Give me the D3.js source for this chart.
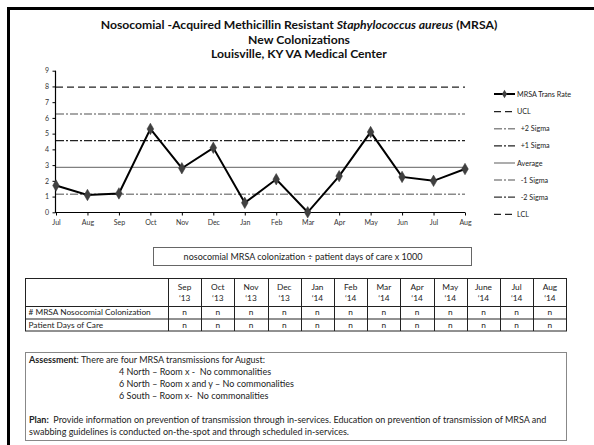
<!DOCTYPE html>
<html><head><meta charset="utf-8">
<script src="https://cdn.jsdelivr.net/npm/d3@7"></script>
<style>
body{margin:0;padding:0;background:#fff;}
svg{display:block;font-family:Lato,"Open Sans",sans-serif;}
</style></head>
<body>
<svg id="chart" width="594" height="445"></svg>
<script>
const months = ["Jul","Aug","Sep","Oct","Nov","Dec","Jan","Feb","Mar","Apr","May","Jun","Jul","Aug"];
const rates = [1.7,1.1,1.2,5.3,2.8,4.1,0.6,2.1,0,2.3,5.1,2.25,2.0,2.75];
const yTicks = [0,1,2,3,4,5,6,7,8,9];
const average = 2.85;
const sigma = 1.7;
const controlLines = [
  {name:"UCL", k:3},
  {name:"+2 Sigma", k:2},
  {name:"+1 Sigma", k:1},
  {name:"Average", k:0},
  {name:"-1 Sigma", k:-1},
  {name:"-2 Sigma", k:-2},
  {name:"LCL", k:-3}
];
const legendLabels = ["MRSA Trans Rate","UCL","  +2 Sigma","  +1 Sigma","Average","  -1 Sigma","  -2 Sigma","LCL"];
const titleLines = ["New Colonizations","Louisville, KY VA Medical Center"];
const formulaText = "nosocomial MRSA colonization \u00F7 patient days of care x 1000";
const tableMonths = ["Sep","Oct","Nov","Dec","Jan","Feb","Mar","Apr","May","June","Jul","Aug"];
const tableYears = ["\u201813","\u201813","\u201813","\u201813","\u201814","\u201814","\u201814","\u201814","\u201814","\u201814","\u201814","\u201814"];
const tableRows = ["# MRSA Nosocomial Colonization","Patient Days of Care"];
const tableCells = ["n","n","n","n","n","n","n","n","n","n","n","n"];
const assessmentLines = ["4 North \u2013 Room x -  No commonalities","6 North \u2013 Room x and y \u2013 No commonalities","6 South \u2013 Room x-  No commonalities"];

const styles = {
  "UCL":{color:"#222",dash:"7,4",w:1.3},
  "+2 Sigma":{color:"#8a8a8a",dash:"8,2,2,2",w:1.5},
  "+1 Sigma":{color:"#222",dash:"8,2,2,2",w:1.3},
  "Average":{color:"#808080",dash:null,w:1.3},
  "-1 Sigma":{color:"#8a8a8a",dash:"8,2,2,2",w:1.5},
  "-2 Sigma":{color:"#333",dash:"8,2,2,2",w:1.3},
  "LCL":{color:"#222",dash:"7,4",w:1.3}
};

const svg = d3.select("#chart");

// outer thick border
svg.append("rect").attr("x",8.5).attr("y",8.5).attr("width",700).attr("height",600)
  .attr("fill","none").attr("stroke","#000").attr("stroke-width",3);

// title
const t = svg.append("text").attr("x",299).attr("y",28.5).attr("text-anchor","middle")
  .attr("font-weight","bold").attr("font-size",12.2).attr("fill","#111");
t.append("tspan").text("Nosocomial -Acquired Methicillin Resistant ");
t.append("tspan").attr("font-style","italic").text("Staphylococcus aureus");
t.append("tspan").text(" (MRSA)");
svg.selectAll("text.sub").data(titleLines).enter().append("text").attr("class","sub")
  .attr("x",299).attr("y",(d,i)=>43.5+i*14).attr("text-anchor","middle")
  .attr("font-weight","bold").attr("font-size",12.2).attr("fill","#111").text(d=>d);

// scales
const x = d3.scalePoint().domain(d3.range(months.length)).range([56,465]);
const y = d3.scaleLinear().domain([0,9]).range([212.3,70.7]);

svg.append("clipPath").attr("id","pc").append("rect")
  .attr("x",56).attr("y",65).attr("width",412).attr("height",147.3);

// control lines
svg.append("g").attr("clip-path","url(#pc)").selectAll("line").data(controlLines).enter().append("line")
  .attr("x1",56).attr("x2",465)
  .attr("y1",d=>y(average+d.k*sigma)).attr("y2",d=>y(average+d.k*sigma))
  .attr("stroke",d=>styles[d.name].color).attr("stroke-width",d=>styles[d.name].w)
  .attr("stroke-dasharray",d=>styles[d.name].dash);

// axes
const yAxis = svg.append("g").attr("transform","translate(55.5,0)")
  .call(d3.axisLeft(y).tickValues(yTicks).tickSize(3).tickFormat(d3.format("d")));
const xAxis = svg.append("g").attr("transform","translate(0,212.5)")
  .call(d3.axisBottom(x).tickSize(3).tickFormat(i=>months[i]));
[yAxis,xAxis].forEach(g=>{
  g.select(".domain").attr("stroke","#000").attr("stroke-width",1.2);
  g.selectAll(".tick line").attr("stroke","#000");
  g.selectAll(".tick text").attr("font-family","Lato,sans-serif").attr("font-size",7).attr("fill","#333");
});
yAxis.select(".domain").attr("d","M-0,70.7V212.3");
xAxis.select(".domain").attr("d","M55,0H465");
yAxis.selectAll(".tick text").attr("x",-6.5);
xAxis.selectAll(".tick text").attr("y",8);

// data line
const line = d3.line().x((d,i)=>x(i)).y(d=>y(d));
svg.append("path").datum(rates).attr("d",line).attr("fill","none")
  .attr("stroke","#000").attr("stroke-width",2);
const diamond = d3.symbol().type(d3.symbolDiamond).size(38);
svg.selectAll("path.pt").data(rates).enter().append("path").attr("class","pt")
  .attr("d",diamond).attr("transform",(d,i)=>`translate(${x(i)},${y(d)})`)
  .attr("fill","#404040").attr("stroke","#333").attr("stroke-width",0.5);

// legend
const lg = svg.append("g");
legendLabels.forEach((lab,i)=>{
  const ly = i===0 ? 94 : 111.7 + (i-1)*17.1;
  const g = lg.append("g");
  if(i===0){
    g.append("line").attr("x1",494).attr("x2",515).attr("y1",ly).attr("y2",ly).attr("stroke","#000").attr("stroke-width",2);
    g.append("path").attr("d",d3.symbol().type(d3.symbolDiamond).size(22)).attr("transform",`translate(504.5,${ly})`).attr("fill","#404040");
  } else {
    const st = styles[controlLines[i-1].name];
    g.append("line").attr("x1",494).attr("x2",515).attr("y1",ly).attr("y2",ly)
      .attr("stroke",st.color).attr("stroke-width",st.w).attr("stroke-dasharray",st.dash);
  }
  g.append("text").attr("x",517).attr("y",ly+2.5).attr("font-size",7.2).attr("fill","#222")
    .attr("xml:space","preserve").style("white-space","pre").text(lab);
});

// formula box
svg.append("rect").attr("x",153.5).attr("y",247.5).attr("width",318).attr("height",18)
  .attr("fill","none").attr("stroke","#666").attr("stroke-width",1);
svg.append("text").attr("x",303).attr("y",259.5).attr("text-anchor","middle")
  .attr("font-size",9).attr("fill","#222").text(formulaText);

// table
const tL=25.5, tFirst=168, tR=566.5, tTop=278.5, hB=306, r1B=318.5, r2B=331;
const colX = d3.scaleBand().domain(d3.range(tableMonths.length)).range([tFirst,tR]);
const tg = svg.append("g");
tg.append("rect").attr("x",tL).attr("y",tTop).attr("width",tR-tL).attr("height",r2B-tTop)
  .attr("fill","none").attr("stroke","#222").attr("stroke-width",1);
[hB,r1B].forEach(yy=>tg.append("line").attr("x1",tL).attr("x2",tR).attr("y1",yy+0.5).attr("y2",yy+0.5).attr("stroke","#222"));
[tFirst].concat(tableMonths.map((m,i)=>colX(i)+colX.bandwidth())).slice(0,-1).forEach(xx=>
  tg.append("line").attr("x1",Math.round(xx)+0.5).attr("x2",Math.round(xx)+0.5).attr("y1",tTop).attr("y2",r2B).attr("stroke","#222"));
const tfs = 8.3;
tableMonths.forEach((m,i)=>{
  const cx = colX(i)+colX.bandwidth()/2;
  tg.append("text").attr("x",cx).attr("y",290).attr("text-anchor","middle").attr("font-size",tfs).attr("fill","#222").text(m);
  tg.append("text").attr("x",cx).attr("y",301).attr("text-anchor","middle").attr("font-size",tfs).attr("fill","#222").text(tableYears[i]);
  [r1B-3.3, r2B-3.3].forEach(yy=>tg.append("text").attr("x",cx).attr("y",yy).attr("text-anchor","middle").attr("font-size",tfs).attr("fill","#222").text(tableCells[i]));
});
tableRows.forEach((r,j)=>tg.append("text").attr("x",28.5).attr("y",[r1B-3.3,r2B-3.3][j]).attr("font-size",tfs).attr("fill","#222").text(r));

// assessment box
svg.append("rect").attr("x",25.5).attr("y",352.5).attr("width",541).attr("height",88)
  .attr("fill","none").attr("stroke","#888").attr("stroke-width",1);
const afs = 9;
const a1 = svg.append("text").attr("x",29).attr("y",362.5).attr("font-size",afs).attr("fill","#222");
a1.append("tspan").attr("font-weight","bold").text("Assessment");
a1.append("tspan").text(": There are four MRSA transmissions for August:");
assessmentLines.forEach((l,i)=>svg.append("text").attr("x",119).attr("y",375+i*12).attr("font-size",afs).attr("fill","#222")
  .attr("xml:space","preserve").style("white-space","pre").text(l));
const p1 = svg.append("text").attr("x",29).attr("y",422.5).attr("font-size",afs).attr("fill","#222");
p1.append("tspan").attr("font-weight","bold").text("Plan:");
p1.append("tspan").attr("xml:space","preserve").style("white-space","pre").text("  Provide information on prevention of transmission through in-services. Education on prevention of transmission of MRSA and");
svg.append("text").attr("x",29).attr("y",435).attr("font-size",afs).attr("fill","#222")
  .text("swabbing guidelines is conducted on-the-spot and through scheduled in-services.");
</script>
</body></html>
